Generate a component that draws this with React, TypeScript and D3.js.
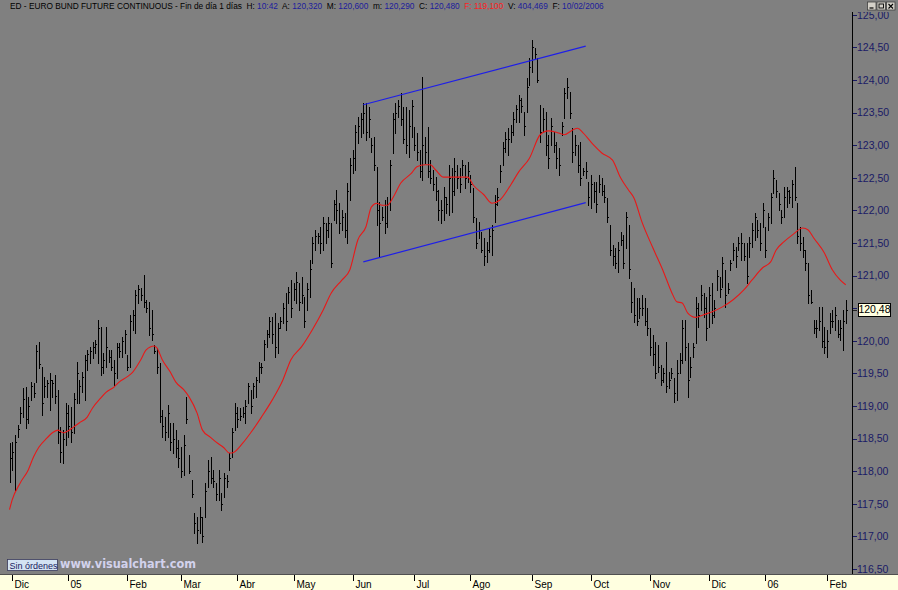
import { curveMonotoneX, formatLocale, line as d3Line, scaleLinear } from "d3"

// daily bars, Euro Bund continuous (left to right)
const highs = [
  118.43, 118.45, 118.56, 118.71, 118.98, 119.28, 119.29, 119.14, 119.37, 119.35,
  119.94, 119.98, 119.6, 119.45, 119.4, 119.51, 119.4, 119.48, 119.25, 118.68,
  118.63, 119.05, 119.02, 118.98, 119.2, 119.68, 119.4, 119.52, 119.78, 119.86,
  119.9, 119.98, 120.01, 120.32, 120.21, 119.81, 120.21, 119.86, 119.86, 119.71,
  119.97, 119.97, 120.06, 120.17, 119.78, 120.4, 120.47, 120.78, 120.86, 120.81,
  121.01, 120.63, 120.6, 120.47, 119.94, 119.89, 119.66, 118.94, 118.83, 119.02,
  118.74, 118.74, 118.63, 118.48, 118.37, 118.56, 119.14, 118.25, 117.87, 117.36,
  117.3, 117.45, 117.3, 117.82, 118.17, 118.22, 118.02, 117.82, 118.02, 117.67,
  117.97, 117.94, 118.28, 118.66, 119.05, 118.98, 118.97, 118.98, 119.09, 119.35,
  119.25, 119.35, 119.45, 119.68, 119.66, 120.01, 120.17, 120.37, 120.37, 120.43,
  120.27, 120.37, 120.58, 120.73, 120.83, 120.93, 120.89, 121.06, 120.89, 120.98,
  120.67, 120.89, 121.24, 121.59, 121.7, 121.65, 121.75, 121.9, 121.81, 121.9,
  121.81, 122.16, 122.31, 122.11, 122.01, 121.96, 122.42, 122.8, 122.93, 123.31,
  123.43, 123.49, 123.65, 123.65, 123.59, 123.11, 123.13, 122.67, 122.13, 122.05,
  122.16, 122.21, 122.77, 123.49, 123.65, 123.69, 123.8, 123.59, 123.59, 123.54,
  123.69, 123.28, 123.19, 122.93, 124.05, 123.13, 123.28, 122.77, 122.62, 122.51,
  122.31, 122.16, 122.36, 122.21, 122.7, 122.65, 122.8, 122.7, 122.65, 122.77,
  122.7, 122.74, 122.54, 122.34, 121.88, 121.82, 121.67, 121.58, 121.52, 121.73,
  121.78, 122.24, 122.34, 122.7, 123.05, 123.2, 123.26, 123.31, 123.51, 123.62,
  123.77, 123.72, 123.51, 124.03, 124.34, 124.61, 124.49, 124.34, 123.62, 123.57,
  123.51, 123.16, 123.42, 123.2, 123.05, 122.96, 123.36, 123.88, 124.03, 123.82,
  123.26, 123.16, 123.0, 123.05, 122.65, 122.74, 122.44, 122.54, 122.44, 122.44,
  122.54, 122.5, 122.39, 122.19, 121.78, 121.47, 121.42, 121.52, 121.67, 121.62,
  121.98, 121.78, 120.9, 120.81, 120.66, 120.66, 120.7, 120.66, 120.5, 120.2,
  120.09, 119.98, 119.94, 119.63, 119.58, 119.98, 119.52, 119.58, 119.43, 119.71,
  119.81, 120.32, 120.32, 119.97, 119.75, 119.97, 120.67, 120.58, 120.86, 120.73,
  120.67, 120.83, 120.89, 120.63, 121.09, 120.98, 121.29, 121.09, 120.89, 121.24,
  121.5, 121.44, 121.59, 121.65, 121.5, 121.5, 121.59, 121.81, 121.96, 121.85,
  121.81, 122.11, 121.75, 121.96, 122.27, 122.62, 122.47, 122.27, 122.01, 122.36,
  122.36, 122.31, 122.47, 122.67, 122.11, 121.75, 121.59, 121.39, 121.19, 120.78,
  120.32, 120.32, 120.52, 120.52, 120.21, 120.17, 120.43, 120.47, 120.52, 120.32,
  120.32, 120.47, 120.63,
]

const lows = [
  117.83, 118.02, 117.71, 118.52, 118.74, 118.83, 118.66, 118.74, 119.09, 119.14,
  119.37, 119.58, 118.86, 119.14, 119.14, 118.94, 119.14, 119.05, 118.43, 118.14,
  118.13, 118.4, 118.52, 118.45, 118.59, 119.05, 119.05, 119.21, 119.09, 119.55,
  119.66, 119.74, 119.81, 119.66, 119.48, 119.51, 119.6, 119.68, 119.55, 119.32,
  119.43, 119.75, 119.75, 119.81, 119.55, 119.6, 120.17, 120.12, 120.58, 120.63,
  120.52, 120.44, 120.09, 120.01, 119.81, 119.51, 118.75, 118.52, 118.48, 118.52,
  118.33, 118.28, 118.22, 118.07, 117.91, 117.94, 118.74, 117.97, 117.6, 117.05,
  116.9, 117.05, 116.92, 117.3, 117.76, 117.82, 117.76, 117.56, 117.56, 117.41,
  117.6, 117.76, 118.02, 118.22, 118.63, 118.68, 118.79, 118.83, 118.74, 119.05,
  118.89, 119.12, 119.14, 119.37, 119.51, 119.71, 119.91, 120.06, 119.97, 119.75,
  119.81, 120.2, 120.27, 120.17, 120.58, 120.37, 120.63, 120.58, 120.47, 120.58,
  120.21, 120.47, 120.67, 121.19, 121.39, 121.5, 121.35, 121.39, 121.5, 121.59,
  121.13, 121.85, 121.81, 121.65, 121.7, 121.59, 121.5, 122.16, 122.57, 122.62,
  123.03, 123.13, 123.19, 123.08, 123.13, 122.9, 122.62, 121.78, 121.29, 121.85,
  121.65, 121.75, 122.01, 122.88, 123.19, 123.43, 123.31, 123.03, 122.88, 122.82,
  123.13, 122.93, 122.77, 122.51, 122.47, 122.73, 122.51, 122.42, 122.31, 122.16,
  121.85, 121.81, 121.85, 121.96, 121.93, 121.98, 122.24, 122.34, 122.28, 122.54,
  122.34, 122.44, 122.28, 121.82, 121.42, 121.58, 121.36, 121.16, 121.21, 121.36,
  121.32, 121.82, 122.08, 122.44, 122.7, 122.9, 122.85, 123.05, 123.16, 123.36,
  123.36, 123.51, 123.16, 123.51, 123.92, 124.12, 124.34, 123.97, 123.05, 123.2,
  122.85, 122.65, 123.0, 122.9, 122.65, 122.54, 123.16, 123.42, 123.72, 123.42,
  122.74, 122.85, 122.59, 122.39, 122.54, 122.5, 122.08, 122.04, 122.13, 121.98,
  122.28, 122.24, 122.13, 121.82, 121.32, 121.16, 121.12, 121.06, 121.47, 121.12,
  121.42, 120.96, 120.44, 120.29, 120.24, 120.35, 120.4, 120.24, 120.09, 119.78,
  119.63, 119.43, 119.52, 119.32, 119.37, 119.21, 119.28, 119.43, 119.06, 119.09,
  119.51, 119.66, 119.71, 119.14, 119.45, 119.75, 119.97, 120.21, 120.47, 120.37,
  120.01, 120.21, 120.27, 120.37, 120.78, 120.67, 120.83, 120.52, 120.73, 121.09,
  121.24, 121.13, 121.39, 121.24, 121.24, 120.89, 121.29, 121.44, 121.55, 121.59,
  121.39, 121.75, 121.29, 121.7, 121.81, 122.27, 122.21, 122.01, 121.81, 121.9,
  122.05, 122.11, 122.05, 122.16, 121.5, 121.39, 121.29, 121.09, 120.58, 120.58,
  120.12, 120.06, 120.17, 119.91, 119.81, 119.75, 120.12, 120.21, 120.17, 120.06,
  120.01, 119.86, 120.27,
]

const closes = [
  118.2, 118.3, 118.45, 118.65, 118.9, 119.1, 118.8, 119.0, 119.3, 119.2,
  119.85, 119.65, 119.05, 119.3, 119.35, 119.4, 119.35, 119.15, 118.6, 118.3,
  118.5, 118.9, 118.7, 118.6, 119.1, 119.5, 119.3, 119.45, 119.7, 119.8,
  119.85, 119.9, 119.95, 120.2, 119.6, 119.7, 119.9, 119.75, 119.6, 119.5,
  119.9, 119.85, 120.0, 120.1, 119.6, 120.3, 120.4, 120.7, 120.8, 120.7,
  120.6, 120.5, 120.2, 120.1, 119.85, 119.6, 118.85, 118.7, 118.6, 118.9,
  118.45, 118.5, 118.35, 118.2, 118.0, 118.4, 118.8, 118.0, 117.65, 117.2,
  117.1, 117.3, 117.0, 117.7, 118.0, 117.9, 117.85, 117.65, 117.9, 117.5,
  117.9, 117.85, 118.2, 118.6, 118.9, 118.8, 118.85, 118.9, 119.0, 119.3,
  119.0, 119.3, 119.4, 119.6, 119.6, 119.95, 120.1, 120.3, 120.1, 119.9,
  120.2, 120.3, 120.5, 120.3, 120.75, 120.5, 120.8, 120.9, 120.6, 120.7,
  120.3, 120.8, 121.1, 121.5, 121.6, 121.6, 121.5, 121.8, 121.7, 121.8,
  121.2, 122.1, 122.0, 121.8, 121.9, 121.7, 122.3, 122.7, 122.8, 123.2,
  123.3, 123.4, 123.5, 123.2, 123.4, 123.0, 122.7, 122.0, 121.8, 121.9,
  121.8, 122.1, 122.7, 123.4, 123.5, 123.6, 123.4, 123.1, 123.0, 123.3,
  123.6, 123.0, 122.9, 122.6, 123.0, 122.9, 122.6, 122.5, 122.4, 122.3,
  122.0, 122.0, 122.2, 122.1, 122.5, 122.3, 122.6, 122.5, 122.4, 122.7,
  122.5, 122.6, 122.4, 121.9, 121.5, 121.7, 121.4, 121.3, 121.4, 121.6,
  121.7, 122.1, 122.2, 122.6, 122.95, 123.1, 123.1, 123.2, 123.4, 123.55,
  123.7, 123.6, 123.3, 123.9, 124.2, 124.5, 124.4, 124.0, 123.2, 123.4,
  123.0, 122.8, 123.3, 123.0, 122.8, 122.7, 123.3, 123.8, 123.9, 123.5,
  122.9, 123.0, 122.7, 122.5, 122.6, 122.6, 122.2, 122.4, 122.3, 122.1,
  122.4, 122.3, 122.2, 121.9, 121.4, 121.3, 121.2, 121.4, 121.55, 121.2,
  121.9, 121.1, 120.6, 120.4, 120.3, 120.5, 120.5, 120.3, 120.2, 119.9,
  119.8, 119.5, 119.6, 119.4, 119.5, 119.3, 119.4, 119.5, 119.2, 119.5,
  119.7, 120.2, 119.9, 119.4, 119.6, 119.9, 120.5, 120.4, 120.7, 120.5,
  120.2, 120.7, 120.4, 120.5, 121.0, 120.8, 121.2, 120.7, 120.8, 121.2,
  121.4, 121.3, 121.5, 121.5, 121.3, 121.0, 121.5, 121.7, 121.9, 121.7,
  121.5, 122.0, 121.4, 121.9, 122.2, 122.5, 122.3, 122.1, 121.9, 122.2,
  122.3, 122.2, 122.4, 122.2, 121.6, 121.5, 121.4, 121.2, 120.7, 120.6,
  120.2, 120.2, 120.3, 120.0, 119.9, 120.0, 120.3, 120.3, 120.4, 120.1,
  120.2, 120.3, 120.48,
]

// red moving average, sampled at these bar numbers
const maIndex = [
  0, 1, 4, 7, 9, 11, 14, 16, 18, 20, 21, 24, 26, 29, 31, 34, 36, 39, 41, 44,
  46, 49, 51, 54, 55, 57, 60, 62, 65, 67, 70, 72, 75, 77, 80, 82, 83, 87, 90, 94,
  98, 102, 105, 109, 113, 117, 120, 124, 127, 130, 133, 135, 137, 139, 141, 143, 146, 150, 152, 155,
  157, 159, 162, 166, 171, 173, 177, 180, 183, 187, 190, 194, 198, 201, 204, 207, 210, 212, 214, 218,
  221, 225, 228, 231, 233, 236, 240, 244, 247, 249, 251, 253, 256, 259, 262, 266, 270, 274, 277, 281,
  284, 286, 289, 292, 296, 298, 300, 304, 307, 310, 312,
]
const maValues = [
  117.41, 117.56, 117.82, 118.02, 118.22, 118.37, 118.51, 118.59, 118.63, 118.59,
  118.6, 118.68, 118.74, 118.83, 118.97, 119.12, 119.21, 119.29, 119.37, 119.45,
  119.52, 119.71, 119.86, 119.92, 119.89, 119.71, 119.52, 119.37, 119.25, 119.14,
  118.89, 118.63, 118.52, 118.45, 118.36, 118.28, 118.28, 118.43, 118.59, 118.83,
  119.09, 119.4, 119.71, 119.91, 120.17, 120.47, 120.73, 120.93, 121.09, 121.55,
  121.75, 122.05, 122.11, 122.08, 122.08, 122.19, 122.42, 122.57, 122.67, 122.7,
  122.7, 122.62, 122.51, 122.51, 122.51, 122.39, 122.24, 122.11, 122.16, 122.39,
  122.59, 122.8, 123.16, 123.22, 123.2, 123.16, 123.23, 123.26, 123.19, 123.0,
  122.88, 122.77, 122.5, 122.31, 122.19, 121.82, 121.43, 121.06, 120.75, 120.6,
  120.58, 120.43, 120.36, 120.4, 120.44, 120.52, 120.63, 120.78, 120.93, 121.12,
  121.21, 121.39, 121.52, 121.62, 121.73, 121.7, 121.58, 121.35, 121.09, 120.93,
  120.86,
]

// hand-drawn channel (bar number, price)
const channelIndex = [132, 215]
const channelUpper = [123.62, 124.52]
const channelLower = [121.21, 122.12]

const monthLabels = ["Dic", "05", "Feb", "Mar", "Abr", "May", "Jun", "Jul", "Ago", "Sep", "Oct", "Nov", "Dic", "06", "Feb"]
const monthStart = [1, 22, 44, 64, 85, 106, 128, 151, 172, 195, 217, 239, 261, 282, 305]

const priceTicks = [116.5, 117, 117.5, 118, 118.5, 119, 119.5, 120, 120.5, 121, 121.5, 122, 122.5, 123, 123.5, 124, 124.5, 125]
const lastPrice = 120.48

const blue = "#1c1c9c"
const headerParts: [string, string][] = [
  ["ED - EURO BUND FUTURE CONTINUOUS - Fin de día 1 días  H: ", "#000"],
  ["10:42", blue],
  ["  A: ", "#000"],
  ["120,320", blue],
  ["  M: ", "#000"],
  ["120,600", blue],
  ["  m: ", "#000"],
  ["120,290", blue],
  ["  C: ", "#000"],
  ["120,480", blue],
  ["  F: 119,100", "#ff2020"],
  ["  V: ", "#000"],
  ["404,469", blue],
  ["  F: ", "#000"],
  ["10/02/2006", blue],
]

const esFmt = formatLocale({ decimal: ",", thousands: ".", grouping: [3], currency: ["", " €"] }).format(".2f")

export default function App() {
  const width = 898
  const height = 590
  const plotRight = 852
  const plotBottom = 574
  const bg = "#808080"
  const axisInk = "#1a1a66"
  const font = "'Liberation Sans', Arial, sans-serif"

  const xScale = scaleLinear().domain([0, highs.length - 1]).range([9.5, 845.7])
  const yScale = scaleLinear().domain([116.5, 125]).range([569, 14.8])
  const crisp = (v: number) => Math.round(v) + 0.5

  let barPath = ""
  highs.forEach((h, i) => {
    const x = crisp(xScale(i))
    const yc = crisp(yScale(closes[i]))
    barPath += `M${x},${Math.round(yScale(h))}V${Math.round(yScale(lows[i])) + 1}M${x},${yc}h1.6`
  })

  const maPath = d3Line<number>()
    .x((_, k) => xScale(maIndex[k]))
    .y((v) => yScale(v))
    .curve(curveMonotoneX)(maValues) ?? ""

  const lastY = yScale(lastPrice)

  return (
    <div style={{ position: "absolute", left: 0, top: 0, width, height }}>
      <svg width={width} height={height} style={{ display: "block" }} fontFamily={font}>
        <rect x={0} y={0} width={width} height={height} fill={bg} />

        {/* bars */}
        <path d={barPath} stroke="#000" strokeWidth={1} fill="none" shapeRendering="crispEdges" />

        {/* moving average */}
        <path d={maPath} fill="none" stroke="#e81818" strokeWidth={1.1} />

        {/* channel */}
        {[channelUpper, channelLower].map((vals, k) => (
          <line
            key={k}
            x1={xScale(channelIndex[0])}
            y1={yScale(vals[0])}
            x2={xScale(channelIndex[1])}
            y2={yScale(vals[1])}
            stroke="#1e1ee8"
            strokeWidth={1.2}
          />
        ))}

        {/* right price axis */}
        <line x1={plotRight + 0.5} x2={plotRight + 0.5} y1={0} y2={plotBottom} stroke="#000" />
        {priceTicks.map((t) => (
          <g key={t}>
            <line x1={plotRight + 1} x2={plotRight + 5} y1={crisp(yScale(t))} y2={crisp(yScale(t))} stroke={axisInk} />
            <text x={plotRight + 5} y={yScale(t)} dy="0.36em" fontSize={10.5} fill={axisInk}>
              {esFmt(t)}
            </text>
          </g>
        ))}
        <line x1={plotRight + 1} x2={plotRight + 5} y1={crisp(lastY)} y2={crisp(lastY)} stroke="#222" />
        <rect x={858.5} y={Math.round(lastY) - 6.5} width={32} height={13} fill="#ffffe1" stroke="#000" />
        <text x={874.5} y={lastY} dy="0.36em" textAnchor="middle" fontSize={10.5} fill="#000">
          {esFmt(lastPrice)}
        </text>

        {/* header band */}
        <rect x={0} y={0} width={width} height={12} fill={bg} />
        <text x={10} y={8.5} fontSize={8.3} style={{ whiteSpace: "pre" }}>
          {headerParts.map(([s, c], k) => (
            <tspan key={k} fill={c}>{s}</tspan>
          ))}
        </text>
        {[0, 1, 2].map((k) => (
          <g key={k} transform={`translate(${867 + k * 9.5},1.5)`}>
            <rect x={0.5} y={0.5} width={8.5} height={8} fill="#d4d0c8" stroke="#404040" strokeWidth={0.8} />
            {k === 0 && <line x1={2.5} x2={6.5} y1={6.5} y2={6.5} stroke="#000" strokeWidth={1.2} />}
            {k === 1 && <rect x={2.5} y={2.5} width={4.5} height={4} fill="none" stroke="#000" strokeWidth={0.9} />}
            {k === 2 && <path d="M2.5,2.5L7,7M7,2.5L2.5,7" stroke="#000" strokeWidth={1.1} />}
          </g>
        ))}

        {/* order button and watermark */}
        <rect x={7.5} y={559.5} width={50} height={11} fill="#d3e3f3" stroke="#3a3a5a" strokeWidth={0.8} />
        <text x={9.5} y={568.5} fontSize={9} fill="#1a1a60">Sin órdenes</text>
        <text x={60} y={568} fontSize={12} fontWeight="bold" fontFamily="'DejaVu Sans', sans-serif" fill="#d2d2ec" textLength={136} lengthAdjust="spacingAndGlyphs">
          www.visualchart.com
        </text>

        {/* bottom time axis */}
        <rect x={0} y={plotBottom} width={width} height={height - plotBottom} fill="#ffffe0" />
        <line x1={0} x2={width} y1={plotBottom + 0.5} y2={plotBottom + 0.5} stroke="#505050" />
        {monthStart.map((idx, k) => {
          const x = crisp(xScale(idx))
          return (
            <g key={k}>
              <line x1={x} x2={x} y1={plotBottom + 1} y2={plotBottom + 7} stroke="#000" />
              <text x={x + 2} y={588} fontSize={10} fill="#000">{monthLabels[k]}</text>
            </g>
          )
        })}
      </svg>
    </div>
  )
}
